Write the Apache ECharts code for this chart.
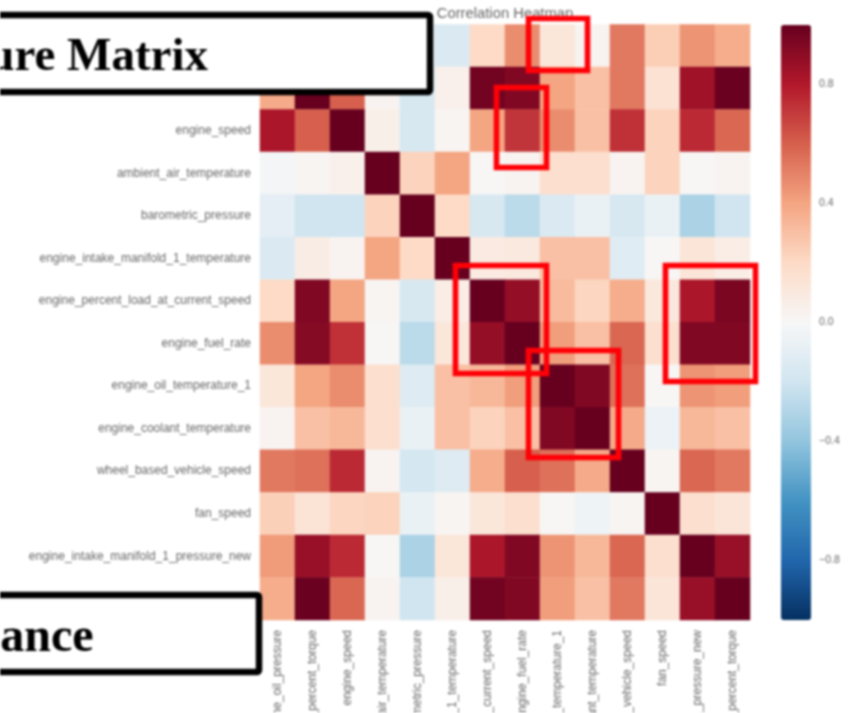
<!DOCTYPE html>
<html>
<head>
<meta charset="utf-8">
<style>
html,body{margin:0;padding:0;background:#fff;overflow:hidden}
#chart{width:853px;height:713px;filter:blur(0.9px)}
</style>
<script src="https://cdn.jsdelivr.net/npm/echarts@6/dist/echarts.min.js"></script>
</head>
<body>
<div id="chart"></div>
<script>
const titleText = 'Correlation Heatmap';
const variables = [
  'engine_oil_pressure','drivers_demand_percent_torque','engine_speed','ambient_air_temperature',
  'barometric_pressure','engine_intake_manifold_1_temperature','engine_percent_load_at_current_speed',
  'engine_fuel_rate','engine_oil_temperature_1','engine_coolant_temperature','wheel_based_vehicle_speed',
  'fan_speed','engine_intake_manifold_1_pressure_new','engine_percent_torque'
];
const oilPressure   = [1,.38,.82,-.02,-.1,-.15,.2,.47,.12,.03,.53,.25,.45,.37];
const demandTorque  = [.38,1,.6,.03,-.17,.05,.97,.93,.4,.3,.53,.15,.85,.99];
const engineSpeed   = [.82,.6,1,.06,-.17,.02,.4,.72,.47,.3,.73,.23,.75,.58];
const ambientTemp   = [-.02,.02,.05,1,.23,.4,.01,.03,.17,.17,.03,.23,.01,.03];
const barometric    = [-.1,-.2,-.2,.23,1,.2,-.17,-.27,-.15,-.07,-.17,-.07,-.32,-.2];
const manifoldTemp  = [-.15,.08,.03,.4,.2,1,.09,.1,.3,.3,-.12,.01,.13,.07];
const loadAtSpeed   = [.2,.93,.4,.02,-.17,.07,1,.88,.32,.22,.37,.11,.82,.95];
const fuelRate      = [.47,.92,.73,.01,-.27,.12,.88,1,.42,.3,.58,.17,.93,.93];
const oilTemp       = [.12,.4,.47,.17,-.13,.3,.33,.42,1,.93,.55,.01,.45,.42];
const coolantTemp   = [.03,.3,.33,.17,-.07,.3,.23,.3,.93,1,.38,-.06,.33,.3];
const vehicleSpeed  = [.53,.55,.75,.03,-.18,-.13,.37,.6,.55,.38,1,.02,.58,.53];
const fanSpeed      = [.24,.14,.22,.23,-.07,.02,.12,.17,.01,-.05,.02,1,.17,.13];
const manifoldPress = [.43,.87,.75,.01,-.32,.12,.82,.93,.45,.33,.58,.17,1,.87];
const percentTorque = [.37,.99,.58,.03,-.2,.06,.97,.93,.42,.3,.53,.13,.87,1];
const matrixRows = [oilPressure,demandTorque,engineSpeed,ambientTemp,barometric,manifoldTemp,loadAtSpeed,
  fuelRate,oilTemp,coolantTemp,vehicleSpeed,fanSpeed,manifoldPress,percentTorque];
const colorbarTicks = [-0.8,-0.4,0,0.4,0.8];
const rdBu = ['#053061','#2166ac','#4393c3','#92c5de','#d1e5f0','#f7f7f7','#fddbc7','#f4a582','#d6604d','#b2182b','#67001f'];
const calloutBoxes = [[528.5,18.5,59,52],[496.5,87.5,50,80],[455.5,265.5,91,108],[665.5,265.5,90,116],[528.5,350.5,90,107]];

const cells = [];
matrixRows.forEach((row, r) => row.forEach((v, c) => cells.push([c, r, v])));

const labelColor = '#666';
const labelFont = {fontFamily:'"Liberation Sans", Arial, sans-serif', fontSize:12, color:labelColor};

const chart = echarts.init(document.getElementById('chart'), null, {renderer:'canvas'});
chart.setOption({
  animation:false,
  backgroundColor:'#fff',
  title:{text:titleText,left:500,top:1,textAlign:'center',
    textStyle:{fontFamily:'"Liberation Sans", Arial, sans-serif',fontSize:14.8,fontWeight:'normal',color:'#666'}},
  grid:[
    {left:260,top:24.5,width:490,height:595.5,outerBoundsMode:'none',containLabel:false},
    {left:781,top:25,width:30,height:595,outerBoundsMode:'none',containLabel:false}
  ],
  xAxis:[
    {type:'category',data:variables,gridIndex:0,axisLine:{show:false},axisTick:{show:false},splitLine:{show:false},
      axisLabel:Object.assign({rotate:90,interval:0,margin:10,hideOverlap:false},labelFont)},
    {type:'category',data:[''],gridIndex:1,show:false}
  ],
  yAxis:[
    {type:'category',data:variables,inverse:true,gridIndex:0,axisLine:{show:false},axisTick:{show:false},splitLine:{show:false},
      axisLabel:Object.assign({interval:0,margin:9,hideOverlap:false},labelFont)},
    {type:'value',min:-1,max:1,position:'right',gridIndex:1,axisLine:{show:false},axisTick:{show:false},splitLine:{show:false},
      axisLabel:Object.assign({customValues:colorbarTicks,margin:8,
        formatter:v=>(v<0?'\u2212':'')+Math.abs(v).toFixed(1)},labelFont,{fontSize:10.5})}
  ],
  visualMap:{type:'continuous',min:-1,max:1,seriesIndex:0,left:781,top:25,itemWidth:30,itemHeight:595,padding:0,
    calculable:false,realtime:false,hoverLink:false,showLabel:false,text:null,inRange:{color:rdBu}},
  series:[
    {type:'heatmap',xAxisIndex:0,yAxisIndex:0,data:cells,itemStyle:{borderWidth:0},progressive:0},
    {type:'scatter',xAxisIndex:1,yAxisIndex:1,data:[],silent:true}
  ],
  graphic:[
    ...calloutBoxes.map(b=>({type:'rect',z:100,shape:{x:b[0],y:b[1],width:b[2],height:b[3]},
      style:{fill:null,stroke:'#ff0007',lineWidth:5.6}})),
    {type:'rect',z:101,shape:{x:-20,y:15,width:450,height:77,r:2},style:{fill:'#fff',stroke:'#000',lineWidth:6.5}},
    {type:'text',z:102,style:{x:208,y:81,text:'Feature Matrix',textAlign:'right',textVerticalAlign:'bottom',
      font:'bold 47px "Liberation Serif", "Times New Roman", serif',fill:'#000'}},
    {type:'rect',z:101,shape:{x:-20,y:595,width:279,height:77,r:2},style:{fill:'#fff',stroke:'#000',lineWidth:6.5}},
    {type:'text',z:102,style:{x:93.5,y:663,text:'Importance',textAlign:'right',textVerticalAlign:'bottom',
      font:'bold 48px "Liberation Serif", "Times New Roman", serif',fill:'#000'}}
  ]
});
</script>
</body>
</html>
